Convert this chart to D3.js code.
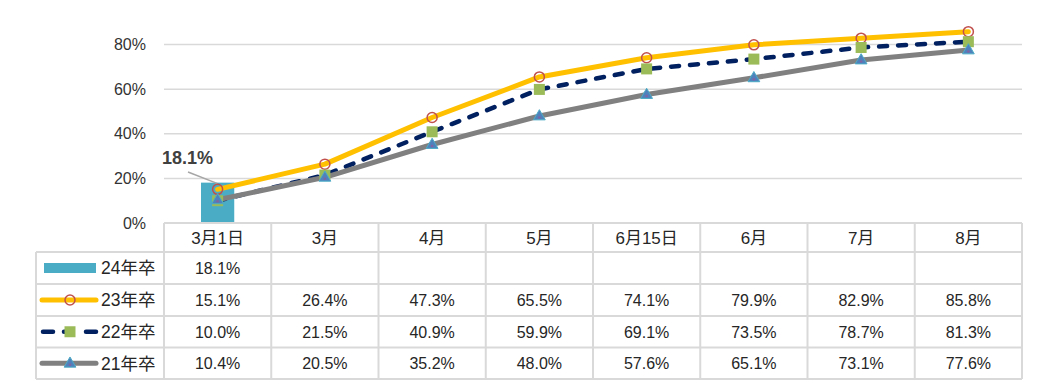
<!DOCTYPE html>
<html><head><meta charset="utf-8">
<script src="https://cdn.jsdelivr.net/npm/d3@7"></script>
<style>
html,body{margin:0;padding:0;background:#fff;}
svg{display:block;font-family:"Liberation Sans","Noto Sans CJK JP",sans-serif;}
</style></head>
<body>
<svg id="c" width="1045" height="389"></svg>
<script>
const categories = ["3月1日","3月","4月","5月","6月15日","6月","7月","8月"];
const seriesNames = ["24年卒","23年卒","22年卒","21年卒"];
const s24 = [18.1, null, null, null, null, null, null, null];
const s23 = [15.1, 26.4, 47.3, 65.5, 74.1, 79.9, 82.9, 85.8];
const s22 = [10.0, 21.5, 40.9, 59.9, 69.1, 73.5, 78.7, 81.3];
const s21 = [10.4, 20.5, 35.2, 48.0, 57.6, 65.1, 73.1, 77.6];
const yTicks = [0, 20, 40, 60, 80];
const barLabel = "18.1%";

const svg = d3.select("#c");
const left = 164, right = 1022, y0 = 223, legendLeft = 36;
const headerBottom = 252;
const rowEdges = [252, 284, 316, 347.5, 379];

const x = d3.scaleBand().domain(categories).range([left, right]).padding(0);
const y = d3.scaleLinear().domain([0, 80]).range([y0, 44.6]);

// gridlines
svg.append("g").selectAll("line").data(yTicks.filter(d => d > 0)).join("line")
  .attr("x1", left).attr("x2", right)
  .attr("y1", d => y(d)).attr("y2", d => y(d))
  .attr("stroke", "#d9d9d9").attr("stroke-width", 1.5);

// y axis labels
const yAxis = d3.axisLeft(y).tickValues(yTicks).tickFormat(d => d + "%").tickSize(0).tickPadding(0);
const ya = svg.append("g").attr("transform", "translate(146,0)").call(yAxis);
ya.select(".domain").remove();
ya.selectAll("text").attr("font-size", 16).attr("fill", "#333")
  .attr("font-family", "Liberation Sans, sans-serif");

// bar
const bw = x.bandwidth() * 0.31;
svg.append("g").selectAll("rect").data(categories.map((c, i) => ({c, v: s24[i]})).filter(d => d.v != null))
  .join("rect")
  .attr("x", d => x(d.c) + x.bandwidth() / 2 - bw / 2)
  .attr("width", bw)
  .attr("y", d => y(d.v)).attr("height", d => y0 - y(d.v))
  .attr("fill", "#4bacc6");

// bar data label with leader line
const bx = x(categories[0]) + x.bandwidth() / 2;
svg.append("line").attr("x1", 188).attr("y1", 172).attr("x2", bx).attr("y2", y(s24[0]) + 1)
  .attr("stroke", "#a6a6a6").attr("stroke-width", 1.5);
svg.append("text").attr("x", 162).attr("y", 164).text(barLabel)
  .attr("font-size", 18).attr("font-weight", "bold").attr("fill", "#404040");

const cx = c => x(c) + x.bandwidth() / 2;
const lineGen = d3.line().x((d, i) => cx(categories[i])).y(d => y(d));

const styles = [
  null,
  {data: s23, color: "#ffc000", width: 5, dash: null, marker: "circle"},
  {data: s22, color: "#002060", width: 4.5, dash: "8,11", marker: "square"},
  {data: s21, color: "#808080", width: 5, dash: null, marker: "triangle"}
];

function drawMarker(g, type, px, py) {
  if (type === "circle") {
    g.append("circle").attr("cx", px).attr("cy", py).attr("r", 5)
      .attr("fill", "none").attr("stroke", "#c0504d").attr("stroke-width", 1.5);
  } else if (type === "square") {
    g.append("rect").attr("x", px - 5.5).attr("y", py - 5.5).attr("width", 11).attr("height", 11)
      .attr("fill", "#9bbb59");
  } else {
    g.append("path").attr("d", d3.symbol(d3.symbolTriangle, 60)())
      .attr("transform", `translate(${px},${py + 0.5})`)
      .attr("fill", "#4f81bd").attr("stroke", "#4bacc6").attr("stroke-width", 1);
    g.append("circle").attr("cx", px).attr("cy", py + 1.5).attr("r", 1.3).attr("fill", "#8064a2");
  }
}

for (let k = 1; k < styles.length; k++) {
  const s = styles[k];
  const p = svg.append("path").datum(s.data).attr("d", lineGen)
    .attr("fill", "none").attr("stroke", s.color).attr("stroke-width", s.width)
    .attr("stroke-linecap", "round").attr("stroke-linejoin", "round");
  if (s.dash) p.attr("stroke-dasharray", s.dash);
}
for (let k = 1; k < styles.length; k++) {
  const s = styles[k];
  const g = svg.append("g");
  s.data.forEach((v, i) => drawMarker(g, s.marker, cx(categories[i]), y(v)));
}

// table grid
const tg = svg.append("g").attr("stroke", "#d9d9d9").attr("stroke-width", 2);
tg.append("line").attr("x1", left).attr("x2", right).attr("y1", y0).attr("y2", y0);
rowEdges.forEach(ry => tg.append("line").attr("x1", legendLeft).attr("x2", right).attr("y1", ry).attr("y2", ry));
const colEdges = categories.map(c => x(c)).concat([right]);
colEdges.forEach(cxv => tg.append("line").attr("x1", cxv).attr("x2", cxv).attr("y1", y0).attr("y2", 379));
tg.append("line").attr("x1", legendLeft).attr("x2", legendLeft).attr("y1", headerBottom).attr("y2", 379);

// header labels
svg.append("g").selectAll("text").data(categories).join("text")
  .attr("x", d => cx(d)).attr("y", (y0 + headerBottom) / 2).attr("dy", "0.36em")
  .attr("text-anchor", "middle").attr("font-size", 17).attr("fill", "#262626").text(d => d);

// rows
const allSeries = [s24, s23, s22, s21];
const fmt = v => v.toFixed(1) + "%";
allSeries.forEach((arr, r) => {
  const rc = (rowEdges[r] + rowEdges[r + 1]) / 2;
  svg.append("g").selectAll("text").data(categories.map((c, i) => ({c, v: arr[i]})).filter(d => d.v != null))
    .join("text").attr("x", d => cx(d.c)).attr("y", rc).attr("dy", "0.36em")
    .attr("text-anchor", "middle").attr("font-size", 16).attr("fill", "#262626")
    .text(d => fmt(d.v));
  // legend label
  svg.append("text").attr("x", 101).attr("y", rc).attr("dy", "0.36em")
    .attr("font-size", 17.5).attr("fill", "#262626").text(seriesNames[r]);
  // legend key
  const lg = svg.append("g");
  if (r === 0) {
    lg.append("rect").attr("x", 44).attr("y", rc - 5).attr("width", 52).attr("height", 10).attr("fill", "#4bacc6");
  } else {
    const s = styles[r];
    if (s.dash) {
      [[43, 53], [64, 66], [86, 96]].forEach(([a, b]) =>
        lg.append("line").attr("x1", a).attr("x2", b).attr("y1", rc).attr("y2", rc)
          .attr("stroke", s.color).attr("stroke-width", s.width).attr("stroke-linecap", "round"));
    } else {
      lg.append("line").attr("x1", 42).attr("x2", 96).attr("y1", rc).attr("y2", rc)
        .attr("stroke", s.color).attr("stroke-width", s.width).attr("stroke-linecap", "round");
    }
    drawMarker(lg, s.marker, 70, rc);
  }
});
</script>
</body></html>
